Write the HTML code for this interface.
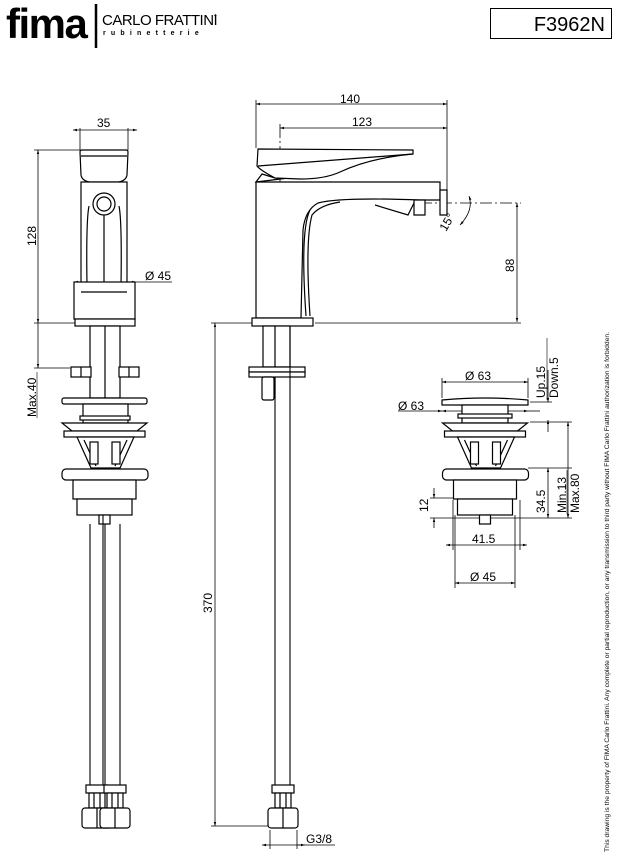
<!DOCTYPE html>
<html><head><meta charset="utf-8"><style>
html,body{margin:0;padding:0;background:#fff}
svg{display:block}
text{font-family:"Liberation Sans",Arial,sans-serif;fill:#000}
</style></head><body>
<svg width="621" height="862" viewBox="0 0 621 862" xmlns="http://www.w3.org/2000/svg">
<defs>
<marker id="a" viewBox="0 0 10 10" refX="10" refY="5" markerWidth="7" markerHeight="5" orient="auto-start-reverse"><path d="M0,2 L10,5 L0,8 z" fill="#000"/></marker>
<g id="drainLow" fill="#fff" stroke="#000" stroke-width="1.2">
<path d="M62,423 H147 L137,431 H72 Z"/>
<rect x="64" y="431" width="81" height="6"/>
<path d="M77,437 H134 L120,468 H91 Z"/>
<path d="M84,440 L96,466 M127,440 L115,466" fill="none"/>
<rect x="90" y="442" width="8" height="22"/>
<rect x="112" y="442" width="8" height="22"/>
<rect x="62" y="469" width="86" height="11" rx="4"/>
<rect x="73" y="480" width="63" height="19"/>
<rect x="77" y="499" width="55" height="16"/>
<rect x="99" y="515" width="11" height="9"/>
</g>
<g id="hexnut" fill="#fff" stroke="#000" stroke-width="1.2">
<rect x="0" y="0" width="22" height="8"/>
<rect x="3" y="8" width="16" height="15"/>
<line x1="8" y1="8" x2="8" y2="23"/><line x1="14" y1="8" x2="14" y2="23"/>
<rect x="-4" y="23" width="30" height="20" rx="3"/>
<line x1="11" y1="23" x2="11" y2="43"/>
</g>
</defs>

<!-- header -->
<text x="6" y="38" font-size="42" font-weight="bold" letter-spacing="-1.5">fima</text>
<line x1="96" y1="4" x2="96" y2="48" stroke="#000" stroke-width="2.5"/>
<text x="102" y="25" font-size="15" letter-spacing="-0.5">CARLO FRATTINI</text>
<text x="214" y="18" font-size="8">•</text>
<text x="103" y="35" font-size="7" font-weight="bold" letter-spacing="5.2">rubinetterie</text>
<rect x="490.5" y="8.5" width="121" height="30" fill="#fff" stroke="#000"/>
<text x="605" y="31" font-size="20" text-anchor="end">F3962N</text>

<g stroke="#000" stroke-width="0.8" fill="none">
<line x1="73" y1="130" x2="137" y2="130" marker-start="url(#a)" marker-end="url(#a)"/>
<line x1="80" y1="128" x2="80" y2="150"/><line x1="128" y1="128" x2="128" y2="150"/>
<line x1="38" y1="150" x2="38" y2="323" marker-start="url(#a)" marker-end="url(#a)"/>
<line x1="34" y1="150" x2="80" y2="150"/>
<line x1="34" y1="323" x2="75" y2="323"/>
<line x1="38" y1="323" x2="38" y2="368" marker-end="url(#a)"/>
<line x1="34" y1="368" x2="70" y2="368"/>
<line x1="74" y1="282" x2="136" y2="282" marker-start="url(#a)" marker-end="url(#a)"/>
<line x1="136" y1="282" x2="172" y2="282"/>
<line x1="37" y1="372" x2="37" y2="418" stroke-width="0.6"/>
</g>
<text x="97" y="127" font-size="12">35</text>
<text x="145" y="280" font-size="12">Ø 45</text>
<text transform="translate(36,246) rotate(-90)" font-size="12">128</text>
<text transform="translate(36,417) rotate(-90)" font-size="12">Max.40</text>

<g fill="#fff" stroke="#000" stroke-width="1.2">
<path d="M80,152 Q80,150 82,150 H126 Q128,150 128,152 L127,175 Q126,181 118,182 H90 Q82,181 81,175 Z"/>
<line x1="81" y1="156" x2="127" y2="156"/>
<rect x="81" y="182" width="46" height="104"/>
<circle cx="104" cy="204" r="11"/><circle cx="104" cy="204" r="7"/>
<path d="M89,206 Q86,220 87,286 M119,206 Q122,220 121,286" fill="none"/>
<line x1="104" y1="215" x2="104" y2="290"/>
<rect x="74" y="282" width="61" height="37"/>
<line x1="81" y1="292" x2="127" y2="292"/>
<rect x="75" y="319" width="60" height="7"/>
<rect x="90" y="326" width="30" height="72"/>
<line x1="105" y1="326" x2="105" y2="398"/>
<rect x="71" y="367" width="20" height="10"/><rect x="119" y="367" width="20" height="10"/>
<line x1="81" y1="367" x2="81" y2="377"/><line x1="129" y1="367" x2="129" y2="377"/>
<rect x="62" y="398" width="85" height="6" rx="2"/>
<rect x="83" y="404" width="45" height="19"/>
<rect x="80" y="416" width="50" height="4"/>
</g>
<use href="#drainLow"/>
<g stroke="#000" stroke-width="1.1" fill="none">
<line x1="90" y1="524" x2="90" y2="785"/><line x1="103" y1="515" x2="103" y2="785"/>
<line x1="105" y1="524" x2="105" y2="785"/><line x1="120" y1="524" x2="120" y2="785"/>
</g>
<use href="#hexnut" transform="translate(86,785)"/>
<use href="#hexnut" transform="translate(104,785)"/>

<g stroke="#000" stroke-width="0.8" fill="none">
<line x1="256" y1="104" x2="447" y2="104" marker-start="url(#a)" marker-end="url(#a)"/>
<line x1="280" y1="128" x2="447" y2="128" marker-start="url(#a)" marker-end="url(#a)"/>
<line x1="256" y1="100" x2="256" y2="148"/>
<line x1="447" y1="100" x2="447" y2="190"/>
<line x1="280" y1="124" x2="280" y2="280" stroke-dasharray="14,3,2,3"/>
<line x1="517" y1="203" x2="517" y2="322" marker-start="url(#a)" marker-end="url(#a)"/>
<line x1="420" y1="203" x2="521" y2="203" stroke-dasharray="12,3,2,3"/>
<line x1="315" y1="323" x2="521" y2="323"/>
<line x1="215" y1="323" x2="215" y2="826" marker-start="url(#a)" marker-end="url(#a)"/>
<line x1="211" y1="323" x2="252" y2="323"/>
<line x1="211" y1="826" x2="268" y2="826"/>
<path d="M469,196 Q474,210 460,225" marker-start="url(#a)" marker-end="url(#a)"/>
<line x1="270" y1="830" x2="270" y2="849"/><line x1="297" y1="830" x2="297" y2="849"/>
<line x1="262" y1="845" x2="305" y2="845" marker-start="url(#a)" marker-end="url(#a)"/>
<line x1="297" y1="845" x2="335" y2="845"/>
</g>
<text x="340" y="103" font-size="12">140</text>
<text x="352" y="126" font-size="12">123</text>
<text transform="translate(514,272) rotate(-90)" font-size="12">88</text>
<text transform="translate(446,232) rotate(-60)" font-size="12">15°</text>
<text transform="translate(212,613) rotate(-90)" font-size="12">370</text>
<text x="306" y="843" font-size="12">G3/8</text>

<g fill="#fff" stroke="#000" stroke-width="1.2">
<path d="M256,182 L262,174 L275,178 L297,178 L305,176 Z"/>
<path d="M258,149 L413,150 L413,154 Q370,158 340,172 Q325,179 300,179 L275,178 Q260,170 257,166 Z"/>
<path d="M258,166 L413,154" fill="none"/>
<path d="M256,182 H440 V200 H420 Q340,197 318,203 Q305,210 303,230 L301,318 H256 Z"/>
<path d="M440,190 H447 V215 H440 Z"/>
<path d="M414,200 H425 V215 H414 Z"/>
<path d="M414,203 L408,215 L375,205" fill="none"/>
<path d="M310,316 Q305,240 312,215 Q320,205 340,202 M306,316 Q300,230 310,210" fill="none"/>
<rect x="252" y="318" width="61" height="8"/>
<rect x="263" y="326" width="27" height="41"/>
<line x1="275" y1="326" x2="275" y2="398"/>
<rect x="249" y="367" width="56" height="5"/><rect x="249" y="372" width="56" height="5"/>
<rect x="262" y="377" width="12" height="23" rx="2"/>
</g>
<g stroke="#000" stroke-width="1.1" fill="none">
<line x1="275" y1="377" x2="275" y2="785"/><line x1="290" y1="326" x2="290" y2="785"/>
</g>
<use href="#hexnut" transform="translate(272,785)"/>

<g stroke="#000" stroke-width="0.8" fill="none">
<line x1="442" y1="382" x2="528" y2="382" marker-start="url(#a)" marker-end="url(#a)"/>
<line x1="442" y1="378" x2="442" y2="398"/><line x1="528" y1="378" x2="528" y2="398"/>
<line x1="398" y1="411" x2="442" y2="411" marker-end="url(#a)"/>
<line x1="528" y1="411" x2="540" y2="411"/>
<line x1="442" y1="411" x2="528" y2="411" marker-start="url(#a)" marker-end="url(#a)"/>
<line x1="530" y1="402" x2="552" y2="402"/>
<line x1="548" y1="370" x2="548" y2="402" marker-end="url(#a)"/>
<line x1="548" y1="420" x2="548" y2="432" marker-start="url(#a)"/>
<line x1="530" y1="422" x2="572" y2="422"/>
<line x1="568" y1="422" x2="568" y2="518" marker-start="url(#a)" marker-end="url(#a)"/>
<line x1="528" y1="468" x2="572" y2="468"/>
<line x1="548" y1="468" x2="548" y2="518" marker-start="url(#a)" marker-end="url(#a)"/>
<line x1="430" y1="518" x2="572" y2="518"/>
<line x1="430" y1="498" x2="456" y2="498"/>
<line x1="434" y1="488" x2="434" y2="498" marker-end="url(#a)"/>
<line x1="434" y1="528" x2="434" y2="518" marker-end="url(#a)"/>
<line x1="453" y1="500" x2="453" y2="550"/><line x1="520" y1="500" x2="520" y2="550"/>
<line x1="446" y1="545" x2="527" y2="545" marker-start="url(#a)" marker-end="url(#a)"/>
<line x1="455" y1="515" x2="455" y2="588"/><line x1="515" y1="515" x2="515" y2="588"/>
<line x1="455" y1="583" x2="515" y2="583" marker-start="url(#a)" marker-end="url(#a)"/>
</g>
<text x="465" y="380" font-size="12">Ø 63</text>
<text x="398" y="410" font-size="12">Ø 63</text>
<text transform="translate(545,398) rotate(-90)" font-size="12">Up.15</text>
<line x1="547" y1="338" x2="547" y2="400" stroke="#000" stroke-width="0.6"/>
<text transform="translate(558,398) rotate(-90)" font-size="12">Down.5</text>
<text transform="translate(545,513) rotate(-90)" font-size="12">34.5</text>
<text transform="translate(566,513) rotate(-90)" font-size="12">Min.13</text>
<line x1="567" y1="470" x2="567" y2="514" stroke="#000" stroke-width="0.6"/>
<text transform="translate(579,513) rotate(-90)" font-size="12">Max.80</text>
<text transform="translate(428,512) rotate(-90)" font-size="12">12</text>
<text x="472" y="543" font-size="12">41.5</text>
<text x="470" y="581" font-size="12">Ø 45</text>
<g fill="#fff" stroke="#000" stroke-width="1.2">
<path d="M442,400 Q485,396 528,400 V405 H442 Z"/>
<rect x="462" y="405" width="46" height="18"/>
<rect x="458" y="414" width="54" height="4"/>
</g>
<use href="#drainLow" transform="translate(380.5,0)"/>

<text transform="translate(609,852) rotate(-90)" font-size="6.3" textLength="520" lengthAdjust="spacingAndGlyphs">This drawing is the property of FIMA Carlo Frattini. Any complete or partial reproduction, or any transmission to third party without FIMA Carlo Frattini authorization is forbidden.</text>
</svg>
</body></html>
